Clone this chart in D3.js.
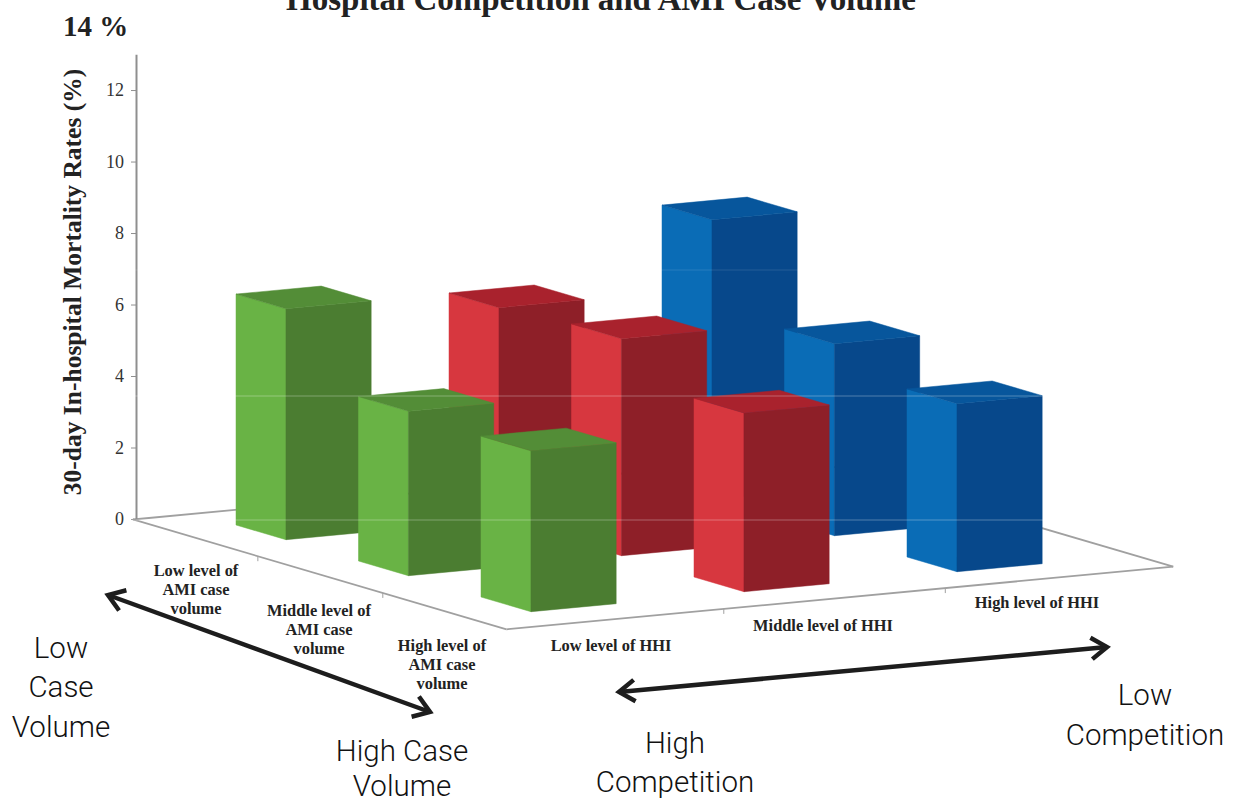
<!DOCTYPE html>
<html><head><meta charset="utf-8">
<script src="https://cdn.jsdelivr.net/npm/d3@7/dist/d3.min.js"></script>
<style>html,body{margin:0;padding:0;background:#fff}svg{display:block}</style>
</head><body><svg id="c" width="1238" height="803"></svg>
<script>
// ---- data ----
const hhiLevels = ["Low level of HHI","Middle level of HHI","High level of HHI"];
const volumeLevels = [["Low level of","AMI case","volume"],["Middle level of","AMI case","volume"],["High level of","AMI case","volume"]];
const lowHHI = [6.46, 4.6, 4.5];
const midHHI = [5.93, 6.07, 5.0];
const highHHI = [7.83, 5.37, 4.7];
const yTicks = [0,2,4,6,8,10,12];
const faceLeft = ["#69b345","#d7373f","#0a6cb6"];
const faceTop = ["#538d37","#a9222d","#07569c"];
const faceRight = ["#4b7d31","#8e1f28","#07488b"];
const series = [lowHHI, midHHI, highHHI];

const svg = d3.select("#c");
const serif = "'Liberation Serif','Times New Roman',serif";
const noteFont = "Roboto,'Noto Sans',sans-serif";

// vertical value scale
const z = d3.scaleLinear().domain([0,13]).range([519,54.3]);
// oblique floor projection: u = HHI position, v = case-volume position
const ux = d3.scaleLinear().domain([0,2]).range([236,662]);
const uy = d3.scaleLinear().domain([0,2]).range([525,485]);
const vx = d3.scaleLinear().domain([0,2]).range([0,245]);
const vy = d3.scaleLinear().domain([0,2]).range([0,72]);
const P = (u,v,h=0)=>[ux(u)+vx(v), uy(u)+vy(v)-(z(0)-z(h))];
const poly = d3.line();
const BW = 0.4, BD = 0.408;

// floor
const U0=-0.3,U1=2.83,V0=-0.32,V1=2.73;
const floorEdges = [[[U0,V0],[U0,V1]],[[U0,V1],[U1,V1]],[[U1,V1],[U1,V0]],[[U1,V0],[U0,V0]]];
svg.append("g").selectAll("path").data(floorEdges).join("path")
  .attr("d",d=>poly(d.map(p=>P(p[0],p[1]))))
  .attr("fill","none").attr("stroke","#a0a0a0").attr("stroke-width",1.8);
// floor ticks
const tickV=[0.7,1.72], tickU=[0.72,1.76];
svg.append("g").selectAll("path").data(tickV).join("path")
  .attr("d",d=>{const p=P(U0,d);return `M${p[0]},${p[1]}v5`;}).attr("stroke","#a0a0a0");
svg.append("g").selectAll("path").data(tickU).join("path")
  .attr("d",d=>{const p=P(d,V1);return `M${p[0]},${p[1]}v5`;}).attr("stroke","#a0a0a0");

// y axis
const axis = d3.axisLeft(z).tickValues(yTicks).tickFormat(d3.format("d")).tickSize(5).tickSizeOuter(0).tickPadding(7);
const gA = svg.append("g").attr("transform","translate(136,0)").call(axis);
gA.select(".domain").attr("stroke","#8f8f8f").attr("stroke-width",2);
gA.selectAll(".tick line").attr("stroke","#8f8f8f");
gA.selectAll("text").attr("font-family",serif).attr("font-size",18).attr("fill","#333");

// bars: far HHI first, then near case-volume row last
const bars = [];
[2,1,0].forEach(i=>[0,1,2].forEach(j=>bars.push({i,j,val:series[i][j]})));
const gB = svg.append("g").selectAll("g").data(bars).join("g");
gB.append("path").attr("fill",d=>faceLeft[d.i]).attr("stroke",d=>faceLeft[d.i]).attr("stroke-width",.5)
  .attr("d",d=>poly([P(d.i,d.j),P(d.i,d.j+BD),P(d.i,d.j+BD,d.val),P(d.i,d.j,d.val)])+"Z");
gB.append("path").attr("fill",d=>faceRight[d.i]).attr("stroke",d=>faceRight[d.i]).attr("stroke-width",.5)
  .attr("d",d=>poly([P(d.i,d.j+BD),P(d.i+BW,d.j+BD),P(d.i+BW,d.j+BD,d.val),P(d.i,d.j+BD,d.val)])+"Z");
gB.append("path").attr("fill",d=>faceTop[d.i]).attr("stroke",d=>faceTop[d.i]).attr("stroke-width",.5)
  .attr("d",d=>poly([P(d.i,d.j,d.val),P(d.i,d.j+BD,d.val),P(d.i+BW,d.j+BD,d.val),P(d.i+BW,d.j,d.val)])+"Z");

// faint scan lines crossing the page
svg.append("g").selectAll("line").data([270,396,520]).join("line")
  .attr("x1",130).attr("x2",1110).attr("y1",d=>d).attr("y2",d=>d)
  .attr("stroke","#fff").attr("stroke-opacity",d=>d===270?.12:.3).attr("stroke-width",1);

// titles
svg.append("text").attr("x",601).attr("y",10).attr("text-anchor","middle")
  .attr("font-family",serif).attr("font-weight","bold").attr("font-size",33).attr("fill","#222")
  .text("Hospital Competition and AMI Case Volume");
svg.append("text").attr("x",63).attr("y",36)
  .attr("font-family",serif).attr("font-weight","bold").attr("font-size",29).attr("fill","#222").text("14 %");
svg.append("text").attr("transform","translate(81,282) rotate(-90)").attr("text-anchor","middle")
  .attr("font-family",serif).attr("font-weight","bold").attr("font-size",25.5).attr("fill","#222")
  .text("30-day In-hospital Mortality Rates (%)");

// category labels
const volPos=[[196,576],[319,616],[442,651]];
volumeLevels.forEach((lines,k)=>{
  svg.append("text").attr("font-family",serif).attr("font-weight","bold").attr("font-size",16.4).attr("fill","#222")
    .attr("text-anchor","middle")
    .selectAll("tspan").data(lines).join("tspan")
    .attr("x",volPos[k][0]).attr("y",(d,n)=>volPos[k][1]+n*19).text(d=>d);
});
const hhiPos=[[611,651],[823,631],[1037,608]];
svg.append("g").selectAll("text").data(hhiLevels).join("text")
  .attr("x",(d,k)=>hhiPos[k][0]).attr("y",(d,k)=>hhiPos[k][1]).attr("text-anchor","middle")
  .attr("font-family",serif).attr("font-weight","bold").attr("font-size",16.4).attr("fill","#222").text(d=>d);

// arrows
const arrows=[[[108,595],[430,712]],[[619,692],[1107,647]]];
function head(tip,from){
  const a=Math.atan2(from[1]-tip[1],from[0]-tip[0]), L=19, s=0.6;
  return poly([[tip[0]+L*Math.cos(a+s),tip[1]+L*Math.sin(a+s)],tip,[tip[0]+L*Math.cos(a-s),tip[1]+L*Math.sin(a-s)]]);
}
const gArrow=svg.append("g").attr("fill","none").attr("stroke","#1d1d1d").attr("stroke-width",4.5).attr("stroke-linejoin","miter");
arrows.forEach(([p,q])=>{
  gArrow.append("path").attr("d",poly([p,q]));
  gArrow.append("path").attr("d",head(p,q));
  gArrow.append("path").attr("d",head(q,p));
});

// direction notes
const notes=[
 {x:61,y:[658,697,737],t:["Low","Case","Volume"]},
 {x:402,y:[761,796],t:["High Case","Volume"]},
 {x:675,y:[753,792],t:["High","Competition"]},
 {x:1145,y:[705,745],t:["Low","Competition"]}];
notes.forEach(n=>{
  svg.append("text").attr("font-family",noteFont).attr("font-weight",300).attr("font-size",29.5).attr("fill","#111").attr("text-anchor","middle")
   .selectAll("tspan").data(n.t).join("tspan").attr("x",n.x).attr("y",(d,k)=>n.y[k]).text(d=>d);
});
</script></body></html>
